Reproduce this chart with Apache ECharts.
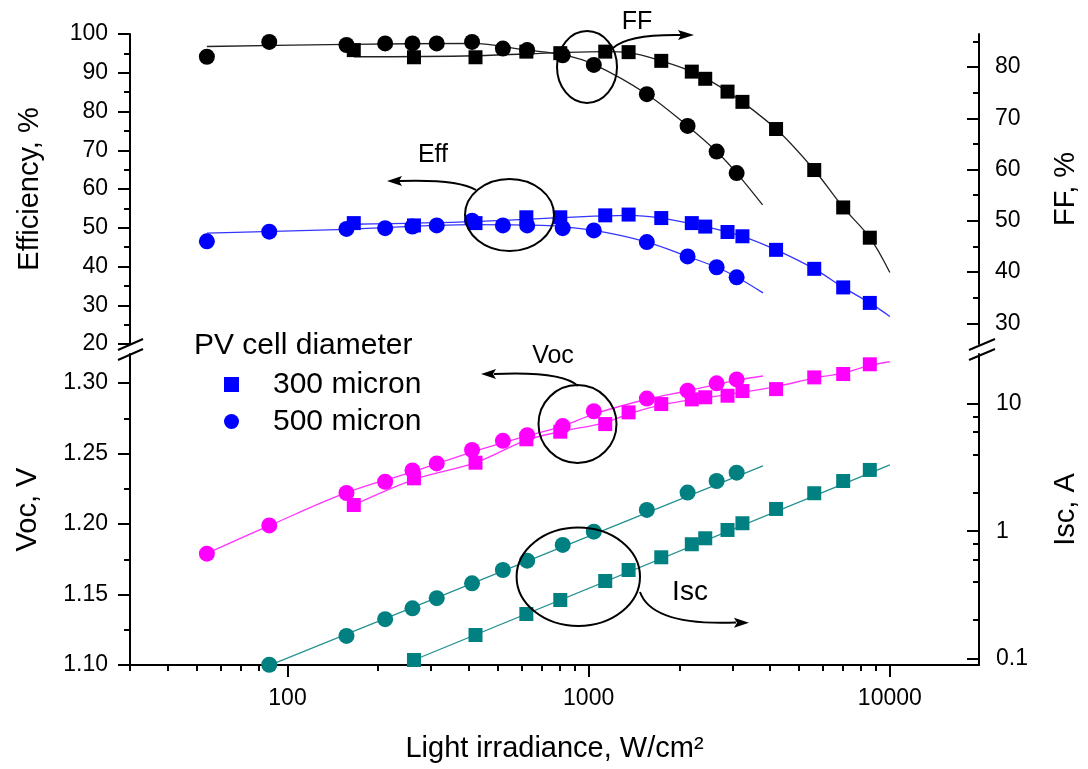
<!DOCTYPE html>
<html>
<head>
<meta charset="utf-8">
<script src="https://cdn.jsdelivr.net/npm/echarts@6/dist/echarts.min.js"></script>
<style>
  html, body {margin: 0; padding: 0; background: #fff;}
  #main {width: 1088px; height: 769px;}
</style>
</head>
<body>
<div id="main"></div>
<script>
// irradiance (W/cm2) for each cell
const irr500 = [54, 87, 157, 211, 260, 313, 410, 519, 625, 820, 1040, 1560, 2130, 2660, 3100];
const irr300 = [166, 263, 421, 621, 805, 1135, 1357, 1742, 2200, 2438, 2891, 3240, 4190, 5610, 7000, 8580];

// measured values
const ff500 = [82.0, 84.9, 84.3, 84.6, 84.6, 84.6, 84.9, 83.6, 83.3, 82.3, 80.4, 74.7, 68.5, 63.5, 59.3];
const ff300 = [83.3, 81.9, 81.9, 83.0, 82.7, 83.0, 82.9, 81.2, 79.1, 77.7, 75.2, 73.2, 67.9, 59.9, 52.6, 46.7];
const eff500 = [46.5, 49.0, 49.7, 49.9, 50.3, 50.6, 51.8, 50.6, 50.6, 49.9, 49.3, 46.3, 42.6, 39.8, 37.2];
const eff300 = [51.2, 50.6, 51.2, 52.7, 52.7, 53.2, 53.4, 52.5, 51.2, 50.3, 48.9, 47.8, 44.3, 39.4, 34.6, 30.6];
const voc500 = [1.179, 1.199, 1.222, 1.230, 1.238, 1.243, 1.2525, 1.259, 1.263, 1.2695, 1.280, 1.289, 1.2946, 1.2998, 1.3026];
const voc300 = [1.2135, 1.2324, 1.2435, 1.2601, 1.2655, 1.2709, 1.2792, 1.2851, 1.2884, 1.2899, 1.2910, 1.2943, 1.2957, 1.3040, 1.3064, 1.3133];
const isc500 = [null, 0.089, 0.150, 0.203, 0.247, 0.297, 0.389, 0.495, 0.586, 0.779, 0.991, 1.468, 2.01, 2.48, 2.885];
const isc300 = [null, 0.097, 0.1525, 0.223, 0.2875, 0.4055, 0.495, 0.623, 0.789, 0.879, 1.022, 1.154, 1.495, 1.987, 2.48, 3.03];

// fitted curves [irradiance, value]
const ffFit500 = [[54, 84.0], [158, 84.4], [410, 84.6], [625, 83.3], [820, 82.4], [1040, 80.5], [1560, 74.7], [2130, 68.5], [2660, 63.5], [3100, 59.3], [3780, 53.1]];
const ffFit300 = [[166, 82.0], [421, 82.2], [805, 82.8], [1135, 83.0], [1357, 82.8], [1742, 81.2], [2200, 79.1], [2891, 75.2], [4190, 67.9], [5610, 59.9], [7000, 52.6], [8580, 46.7], [10000, 39.9]];
const effFit500 = [[54, 48.6], [157, 49.6], [410, 50.8], [700, 50.6], [1040, 49.3], [1560, 46.3], [2130, 42.6], [2660, 39.8], [3100, 37.3], [3790, 33.2]];
const effFit300 = [[166, 50.9], [421, 51.6], [805, 52.6], [1357, 53.2], [1742, 52.5], [2438, 50.3], [3240, 47.8], [4190, 44.3], [5610, 39.4], [7000, 34.6], [8580, 30.6], [10000, 27.1]];
const vocFit500 = [[54, 1.1792], [87, 1.1988], [157, 1.2222], [260, 1.2370], [410, 1.2510], [625, 1.2625], [820, 1.2695], [1040, 1.2780], [1560, 1.2885], [2130, 1.2945], [3100, 1.3020], [3790, 1.3050]];
const vocFit300 = [[166, 1.2135], [263, 1.2315], [421, 1.2435], [621, 1.2595], [805, 1.2655], [1135, 1.2720], [1357, 1.2780], [1742, 1.2845], [2438, 1.2895], [3240, 1.2935], [4190, 1.2975], [5610, 1.3035], [7000, 1.3070], [8580, 1.3125], [10000, 1.3151]];
const iscFit500 = [[85, 0.086], [3790, 3.26]];
const iscFit300 = [[263, 0.097], [10000, 3.32]];

// ticks
const xMajor = [100, 1000, 10000];
const xMinor = [30, 40, 50, 60, 70, 80, 90, 200, 300, 400, 500, 600, 700, 800, 900, 2000, 3000, 4000, 5000, 6000, 7000, 8000, 9000];
const ffMajor = [30, 40, 50, 60, 70, 80];
const ffMinor = [35, 45, 55, 65, 75, 85];
const vocMajor = [1.10, 1.15, 1.20, 1.25, 1.30];
const vocMinor = [1.125, 1.175, 1.225, 1.275];
const iscMajor = [0.1, 1, 10];
const iscMinor = [0.2, 0.4, 0.6, 0.8, 2, 4, 6, 8];

const lg = Math.log10;
const X_MIN = lg(30), X_MAX = 4.296;
const FONT = 'Liberation Sans';
const AX = {color: '#000', width: 2};

function pts(xs, ys, logY) {
    return xs.map(function (x, i) {
        const y = ys[i];
        if (y == null) return [lg(x), null];
        return [lg(x), logY ? lg(y) : y];
    });
}
function fit(arr, logY) {
    return arr.map(function (p) { return [lg(p[0]), logY ? lg(p[1]) : p[1]]; });
}
function lineS(name, data, color, xi, yi) {
    return {name: name, type: 'line', xAxisIndex: xi, yAxisIndex: yi, data: data,
        showSymbol: false, smooth: 0.35, silent: true, z: 2,
        lineStyle: {color: color, width: 1.3}};
}
function dots(name, data, color, symbol, xi, yi) {
    return {name: name, type: 'scatter', xAxisIndex: xi, yAxisIndex: yi, data: data,
        symbol: symbol, symbolSize: symbol === 'rect' ? 14 : 16, z: 3,
        itemStyle: {color: color, opacity: 1}};
}
// extra axis that only draws the short (minor) ticks
function tickOnlyAxis(base, values, inside) {
    return Object.assign({}, base, {
        axisLine: {show: false, onZero: false},
        axisLabel: {show: false},
        splitLine: {show: false},
        axisTick: {show: true, inside: inside, length: 6, customValues: values, lineStyle: AX}
    });
}

const chart = echarts.init(document.getElementById('main'));

const ffBase = {type: 'value', gridIndex: 0, position: 'right', min: 25.96, max: 86.44};
const vocBase = {type: 'value', gridIndex: 1, position: 'left', min: 1.10, max: 1.3206};
const iscBase = {type: 'value', gridIndex: 1, position: 'right', min: -1.0527, max: 1.3934};
const xBase = {type: 'value', gridIndex: 1, position: 'bottom', min: X_MIN, max: X_MAX};

chart.setOption({
    animation: false,
    backgroundColor: '#fff',
    textStyle: {fontFamily: FONT, color: '#000'},
    title: {
        text: 'PV cell diameter', left: 194, top: 331, padding: 0,
        textStyle: {fontFamily: FONT, fontSize: 30, fontWeight: 'normal', color: '#000'}
    },
    legend: {
        data: ['300 micron', '500 micron'],
        orient: 'vertical', left: 224, top: 369, padding: 0,
        itemWidth: 15, itemHeight: 15, itemGap: 6, selectedMode: false,
        textStyle: {fontFamily: FONT, fontSize: 30, color: '#000', padding: [0, 0, 0, 29], lineHeight: 31}
    },
    grid: [
        {left: 130, right: 107, top: 34, height: 310},
        {left: 130, right: 107, top: 354, height: 311}
    ],
    xAxis: [
        {type: 'value', gridIndex: 0, min: X_MIN, max: X_MAX, show: false},
        Object.assign({}, xBase, {
            name: 'Light irradiance, W/cm²', nameLocation: 'middle', nameGap: 69,
            nameTextStyle: {fontFamily: FONT, fontSize: 29, color: '#000'},
            axisLine: {show: true, onZero: false, lineStyle: AX},
            axisTick: {show: true, length: 12, customValues: xMajor.map(lg), lineStyle: AX},
            axisLabel: {customValues: xMajor.map(lg), margin: 22, fontFamily: FONT, fontSize: 23, color: '#000',
                formatter: function (v) { return String(Math.round(Math.pow(10, v))); }},
            splitLine: {show: false}
        }),
        tickOnlyAxis(xBase, xMinor.map(lg), false)
    ],
    yAxis: [
        {
            type: 'value', gridIndex: 0, position: 'left', min: 20, max: 100, interval: 10,
            name: 'Efficiency, %', nameLocation: 'middle', nameGap: 86,
            nameTextStyle: {fontFamily: FONT, fontSize: 29, color: '#000'},
            axisLine: {show: true, onZero: false, lineStyle: AX},
            axisTick: {show: true, length: 12, lineStyle: AX},
            minorTick: {show: true, splitNumber: 2, length: 6, lineStyle: AX},
            axisLabel: {margin: 22, fontFamily: FONT, fontSize: 23, color: '#000'},
            splitLine: {show: false}
        },
        Object.assign({}, ffBase, {
            name: 'FF, %', nameLocation: 'middle', nameGap: 72,
            nameTextStyle: {fontFamily: FONT, fontSize: 29, color: '#000'},
            axisLine: {show: true, onZero: false, lineStyle: AX},
            axisTick: {show: true, inside: true, length: 12, customValues: ffMajor, lineStyle: AX},
            axisLabel: {customValues: ffMajor, margin: 16, fontFamily: FONT, fontSize: 23, color: '#000'},
            splitLine: {show: false}
        }),
        tickOnlyAxis(ffBase, ffMinor, true),
        Object.assign({}, vocBase, {
            name: 'Voc, V', nameLocation: 'middle', nameGap: 88,
            nameTextStyle: {fontFamily: FONT, fontSize: 29, color: '#000'},
            axisLine: {show: true, onZero: false, lineStyle: AX},
            axisTick: {show: true, length: 12, customValues: vocMajor, lineStyle: AX},
            axisLabel: {customValues: vocMajor, margin: 22, fontFamily: FONT, fontSize: 23, color: '#000',
                formatter: function (v) { return v.toFixed(2); }},
            splitLine: {show: false}
        }),
        tickOnlyAxis(vocBase, vocMinor, false),
        Object.assign({}, iscBase, {
            name: 'Isc, A', nameLocation: 'middle', nameGap: 72,
            nameTextStyle: {fontFamily: FONT, fontSize: 29, color: '#000'},
            axisLine: {show: true, onZero: false, lineStyle: AX},
            axisTick: {show: true, inside: true, length: 12, customValues: iscMajor.map(lg), lineStyle: AX},
            axisLabel: {customValues: iscMajor.map(lg), margin: 17, fontFamily: FONT, fontSize: 23, color: '#000',
                formatter: function (v) {
                    const p = Math.pow(10, v);
                    return p < 1 ? p.toFixed(1) : String(Math.round(p));
                }},
            splitLine: {show: false}
        }),
        tickOnlyAxis(iscBase, iscMinor.map(lg), true)
    ],
    series: [
        lineS('ff500 fit', fit(ffFit500), '#222', 0, 1),
        lineS('ff300 fit', fit(ffFit300), '#222', 0, 1),
        lineS('eff500 fit', fit(effFit500), '#3535ff', 0, 0),
        lineS('eff300 fit', fit(effFit300), '#3535ff', 0, 0),
        lineS('voc500 fit', fit(vocFit500), '#ff33ff', 1, 3),
        lineS('voc300 fit', fit(vocFit300), '#ff33ff', 1, 3),
        lineS('isc500 fit', fit(iscFit500, true), '#229090', 1, 5),
        lineS('isc300 fit', fit(iscFit300, true), '#229090', 1, 5),

        dots('FF 500', pts(irr500, ff500), '#000', 'circle', 0, 1),
        dots('FF 300', pts(irr300, ff300), '#000', 'rect', 0, 1),
        dots('500 micron', pts(irr500, eff500), '#0000ff', 'circle', 0, 0),
        dots('300 micron', pts(irr300, eff300), '#0000ff', 'rect', 0, 0),
        dots('Voc 500', pts(irr500, voc500), '#ff00ff', 'circle', 1, 3),
        dots('Voc 300', pts(irr300, voc300), '#ff00ff', 'rect', 1, 3),
        dots('Isc 500', pts(irr500, isc500, true), '#008080', 'circle', 1, 5),
        dots('Isc 300', pts(irr300, isc300, true), '#008080', 'rect', 1, 5)
    ],
    graphic: [
        // axis breaks
        {type: 'rect', shape: {x: 116, y: 345, width: 30, height: 8}, style: {fill: '#fff'}, z: 90},
        {type: 'line', shape: {x1: 118, y1: 350, x2: 143, y2: 339}, style: {stroke: '#000', lineWidth: 2}, z: 91},
        {type: 'line', shape: {x1: 118, y1: 360, x2: 143, y2: 349}, style: {stroke: '#000', lineWidth: 2}, z: 91},
        {type: 'rect', shape: {x: 967, y: 345, width: 30, height: 8}, style: {fill: '#fff'}, z: 90},
        {type: 'line', shape: {x1: 969, y1: 350, x2: 995, y2: 339}, style: {stroke: '#000', lineWidth: 2}, z: 91},
        {type: 'line', shape: {x1: 969, y1: 360, x2: 995, y2: 349}, style: {stroke: '#000', lineWidth: 2}, z: 91},

        // FF callout
        {type: 'ellipse', shape: {cx: 587, cy: 67, rx: 30, ry: 36}, style: {fill: 'none', stroke: '#000', lineWidth: 2}, z: 95},
        {type: 'bezierCurve', shape: {x1: 613, y1: 48, cpx1: 628, cpy1: 34, x2: 682, y2: 35}, style: {fill: 'none', stroke: '#000', lineWidth: 2}, z: 95},
        {type: 'polygon', shape: {points: [[694, 35], [678, 30], [681, 35], [678, 40]]}, style: {fill: '#000'}, z: 95},
        {type: 'text', style: {text: 'FF', x: 637, y: 22, font: '25px "Liberation Sans"', fill: '#000', align: 'center', verticalAlign: 'middle'}, z: 95},

        // Eff callout
        {type: 'ellipse', shape: {cx: 509.5, cy: 215, rx: 44.5, ry: 36}, style: {fill: 'none', stroke: '#000', lineWidth: 2}, z: 95},
        {type: 'bezierCurve', shape: {x1: 476, y1: 190, cpx1: 458, cpy1: 179, x2: 399, y2: 181}, style: {fill: 'none', stroke: '#000', lineWidth: 2}, z: 95},
        {type: 'polygon', shape: {points: [[387, 181], [402, 176], [399, 181], [402, 186]]}, style: {fill: '#000'}, z: 95},
        {type: 'text', style: {text: 'Eff', x: 433, y: 155, font: '25px "Liberation Sans"', fill: '#000', align: 'center', verticalAlign: 'middle'}, z: 95},

        // Voc callout
        {type: 'ellipse', shape: {cx: 577.5, cy: 424, rx: 39, ry: 39}, style: {fill: 'none', stroke: '#000', lineWidth: 2}, z: 95},
        {type: 'bezierCurve', shape: {x1: 578, y1: 386, cpx1: 562, cpy1: 371, x2: 494, y2: 374}, style: {fill: 'none', stroke: '#000', lineWidth: 2}, z: 95},
        {type: 'polygon', shape: {points: [[481, 374], [496, 369], [493, 374], [496, 379]]}, style: {fill: '#000'}, z: 95},
        {type: 'text', style: {text: 'Voc', x: 553, y: 356, font: '25px "Liberation Sans"', fill: '#000', align: 'center', verticalAlign: 'middle'}, z: 95},

        // Isc callout
        {type: 'ellipse', shape: {cx: 578.3, cy: 576.8, rx: 61.7, ry: 49.2}, style: {fill: 'none', stroke: '#000', lineWidth: 2}, z: 95},
        {type: 'bezierCurve', shape: {x1: 640, y1: 592, cpx1: 652, cpy1: 626, x2: 736, y2: 622.5}, style: {fill: 'none', stroke: '#000', lineWidth: 2}, z: 95},
        {type: 'polygon', shape: {points: [[749, 622.7], [734, 617.7], [737, 622.7], [734, 627.7]]}, style: {fill: '#000'}, z: 95},
        {type: 'text', style: {text: 'Isc', x: 690, y: 592, font: '28px "Liberation Sans"', fill: '#000', align: 'center', verticalAlign: 'middle'}, z: 95}
    ]
});
</script>
</body>
</html>
